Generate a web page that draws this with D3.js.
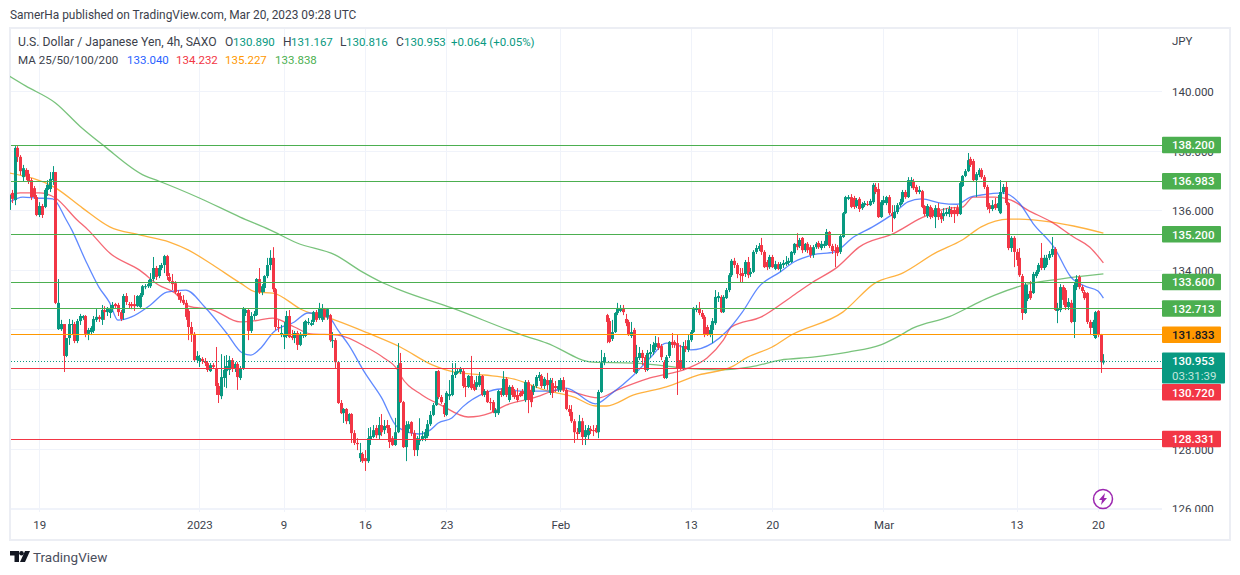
<!DOCTYPE html>
<html>
<head>
<meta charset="utf-8">
<script src="https://cdn.jsdelivr.net/npm/d3@7"></script>
<style>
  html, body { margin: 0; background: #fff; }
  text { font-family: Roboto, sans-serif; }
</style>
</head>
<body>
<svg id="chart" width="1240" height="575"></svg>
<script>
// USD/JPY 4h candles, 10 bars per line
const opens = [
  136.01,136.58,136.34,138.09,137.79,137.11,137.35,137.22,137.01,136.74,
  136.44,135.84,136.14,136.11,136.68,136.71,137.01,137.28,132.01,132.01,
  132.18,131.11,131.71,132.15,132.18,131.61,132.28,132.38,132.45,131.85,
  131.91,131.95,132.32,132.42,132.32,132.65,132.58,132.55,132.68,132.85,
  132.82,132.58,132.55,133.12,132.85,132.85,132.85,132.78,132.75,133.15,
  133.42,133.45,133.45,133.69,134.06,133.79,134.06,134.16,134.46,133.76,
  133.62,133.55,133.22,133.12,132.99,132.89,132.62,132.08,131.85,130.97,
  130.94,131.01,130.94,130.87,130.60,130.80,130.70,130.10,129.76,130.37,
  130.60,130.64,130.97,130.67,130.84,130.37,130.70,132.55,132.65,131.95,
  132.45,132.48,133.69,133.25,133.39,133.79,134.16,134.40,133.35,132.08,
  131.81,131.74,131.78,132.45,131.78,131.71,131.88,131.48,131.78,131.78,
  132.21,132.15,132.25,132.58,132.38,132.32,132.68,132.42,132.48,131.64,
  131.64,130.90,129.53,129.19,129.33,128.92,129.16,128.52,128.19,127.68,
  127.82,127.68,127.58,128.32,128.39,128.69,128.45,128.79,128.62,128.79,
  128.69,128.35,128.12,128.55,130.87,129.56,128.05,128.66,128.89,128.52,
  127.95,128.25,128.32,128.35,128.42,128.82,129.13,129.46,130.60,129.73,
  129.46,129.13,129.76,129.80,130.47,130.54,130.57,130.60,130.10,130.07,
  130.44,130.17,130.07,130.13,130.44,129.80,129.93,129.56,129.56,129.19,
  129.19,129.93,129.80,130.34,129.63,130.07,129.93,129.80,129.87,129.93,
  129.63,130.23,129.97,129.90,130.10,130.37,130.44,130.10,130.30,129.87,
  130.20,130.10,130.00,129.97,130.30,129.97,129.33,129.23,128.92,128.55,
  128.55,128.92,128.39,128.45,128.66,128.62,128.69,128.55,129.90,130.90,
  132.48,132.28,131.68,131.91,132.55,132.62,132.72,132.35,132.25,131.78,
  131.98,130.54,131.04,131.21,131.07,130.64,131.17,131.24,131.41,131.54,
  131.44,130.90,130.37,131.11,131.58,131.58,131.54,130.97,130.67,131.44,
  131.31,131.64,131.91,132.65,132.72,132.55,132.42,132.08,131.81,131.98,
  132.21,133.05,133.09,132.58,133.05,133.32,133.82,134.30,134.16,133.86,
  133.89,133.86,134.26,133.86,133.93,134.60,134.70,134.83,134.60,134.26,
  134.09,134.43,134.03,134.19,134.03,134.16,134.19,134.23,134.26,134.56,
  134.87,134.80,135.07,134.66,134.87,134.76,134.50,134.76,134.90,134.73,
  134.80,134.83,135.27,134.80,134.66,134.76,134.60,135.10,135.90,136.38,
  136.44,136.41,136.14,136.38,136.07,136.17,136.21,136.17,136.27,136.78,
  136.71,135.77,136.24,136.24,136.44,135.90,135.74,135.94,136.17,136.27,
  136.61,136.44,136.81,136.98,136.78,136.61,136.64,136.14,135.80,136.11,
  136.01,135.77,136.07,135.90,135.80,135.87,135.87,136.01,136.01,136.07,
  135.87,136.81,137.15,137.31,137.72,137.65,137.01,137.18,137.35,137.11,
  136.78,136.17,136.04,136.21,136.07,135.90,136.61,136.78,136.24,134.73,
  135.07,134.60,134.40,133.79,132.55,133.02,133.29,133.22,133.79,133.93,
  134.40,134.06,134.16,134.40,134.50,134.70,132.62,132.65,133.42,133.32,
  132.75,132.89,132.25,133.42,133.76,133.42,133.25,133.22,132.25,132.05,
  131.71,132.62,131.81,130.89
];
const highs = [
  136.68,136.68,138.15,138.15,137.85,137.52,137.41,137.35,137.08,136.81,
  136.51,136.27,136.21,136.74,137.01,137.28,137.48,137.28,133.69,132.32,
  132.18,131.71,132.35,132.32,132.25,132.35,132.52,132.48,132.48,132.05,
  132.11,132.45,132.68,132.48,132.82,132.78,132.75,132.82,132.92,132.89,
  132.89,132.65,133.19,133.22,132.92,132.92,133.15,133.15,133.22,133.49,
  133.52,133.66,133.89,134.43,134.13,134.16,134.23,134.50,134.50,133.89,
  133.86,133.62,133.32,133.25,133.15,132.99,132.68,132.25,131.91,131.27,
  131.14,131.07,131.04,130.94,130.87,130.87,131.41,130.20,131.17,131.11,
  131.14,131.11,131.04,130.90,130.90,130.77,132.75,132.72,132.68,132.58,
  132.62,133.72,134.06,133.52,133.82,134.40,134.66,134.76,133.39,132.32,
  132.15,132.25,132.62,132.65,131.98,131.95,131.95,131.91,132.25,132.32,
  132.38,132.32,132.62,132.65,132.89,132.85,132.72,132.72,132.52,131.91,
  131.71,130.94,129.63,129.36,129.36,129.19,129.19,128.62,128.35,128.19,
  127.88,127.95,128.69,128.72,128.79,128.79,129.06,129.16,128.96,128.96,
  128.79,128.42,129.03,131.54,131.21,129.60,128.92,128.92,128.92,128.62,
  128.42,129.02,128.59,128.66,128.96,129.26,129.53,130.60,130.64,129.80,
  129.53,129.93,130.30,130.87,130.87,130.70,130.74,130.67,130.37,130.47,
  131.11,130.30,130.44,130.57,130.47,130.00,129.97,129.70,129.63,129.36,
  129.97,130.03,130.60,130.40,130.13,130.13,130.00,130.03,129.93,130.00,
  130.30,130.30,130.13,130.17,130.47,130.57,130.50,130.40,130.54,130.37,
  130.37,130.27,130.30,130.37,130.40,130.03,129.46,129.46,128.99,128.69,
  129.13,129.03,128.79,128.79,128.76,128.79,128.79,129.97,131.31,131.21,
  132.52,132.38,132.32,132.58,132.89,132.82,132.82,132.52,132.32,132.25,
  132.05,131.48,131.41,131.31,131.14,131.31,131.51,131.58,131.78,131.74,
  131.51,130.97,131.14,131.61,131.88,131.64,131.81,131.48,131.58,131.64,
  131.81,131.98,132.75,132.82,132.92,132.65,132.48,132.15,132.15,132.38,
  133.32,133.25,133.15,133.15,133.39,133.89,134.36,134.40,134.23,134.06,
  134.06,134.33,134.43,134.06,134.66,134.83,134.90,135.07,134.66,134.33,
  134.50,134.50,134.30,134.26,134.26,134.33,134.46,134.40,134.63,134.90,
  135.23,135.07,135.10,134.90,134.93,134.83,134.83,134.93,134.97,134.97,
  134.97,135.37,135.30,134.87,134.87,134.83,135.17,135.94,136.48,136.51,
  136.54,136.48,136.41,136.44,136.27,136.31,136.31,136.38,136.91,136.91,
  136.91,136.34,136.48,136.48,136.51,136.17,136.17,136.24,136.38,136.68,
  136.68,137.11,137.11,137.05,136.85,136.81,136.68,136.17,136.21,136.17,
  136.07,136.17,136.24,135.97,136.07,136.07,136.14,136.11,136.11,136.17,
  136.95,137.18,137.38,137.92,137.79,137.72,137.28,137.41,137.41,137.18,
  136.85,136.24,136.34,136.41,136.51,137.01,136.88,136.95,136.27,135.13,
  135.13,134.70,134.73,133.86,133.56,133.49,133.62,133.93,133.99,134.23,
  134.90,134.50,134.50,134.63,135.10,134.76,132.89,133.52,133.49,133.39,
  133.05,132.99,133.56,133.82,133.82,133.49,133.32,133.25,132.32,132.32,
  132.62,132.65,131.85,131.17
];
const lows = [
  135.60,136.24,136.17,137.62,137.18,136.95,137.01,136.88,136.34,136.38,
  135.80,135.77,135.74,136.07,136.48,136.61,136.85,132.85,131.98,131.95,
  130.57,131.07,131.48,131.81,131.54,131.54,132.15,132.32,131.74,131.64,
  131.81,131.88,132.25,132.25,132.15,132.32,132.45,132.38,132.58,132.72,
  132.45,132.28,132.32,132.82,132.72,132.68,132.62,132.75,132.72,133.09,
  133.35,133.39,133.39,133.62,133.66,133.72,133.99,133.89,133.66,133.55,
  133.32,133.19,132.99,132.89,132.82,132.32,131.64,131.58,130.94,130.87,
  130.74,130.84,130.77,130.57,130.57,130.67,129.80,129.53,129.66,130.07,
  130.03,130.47,130.57,130.57,129.97,130.30,130.64,132.45,131.64,131.88,
  132.32,132.45,133.19,133.15,133.25,133.72,133.99,133.25,131.98,131.91,
  131.74,131.34,131.71,131.71,131.64,131.54,131.31,131.44,131.71,131.74,
  132.15,132.11,132.15,132.25,132.32,132.25,132.32,132.32,131.58,131.38,
  130.70,129.50,129.16,128.86,128.82,128.82,128.19,128.12,127.95,127.55,
  127.52,127.25,127.52,128.12,128.35,128.35,128.29,128.42,128.49,128.52,
  128.02,128.09,128.09,128.52,129.53,128.02,127.58,128.52,128.42,127.75,
  127.75,128.12,128.25,128.25,128.35,128.76,129.09,129.43,129.66,129.50,
  129.06,129.09,129.63,129.76,130.37,130.50,130.50,130.03,129.73,130.03,
  129.97,129.93,129.97,130.07,129.76,129.73,129.53,129.29,129.19,129.06,
  129.13,129.73,129.76,129.73,129.56,129.73,129.66,129.56,129.73,129.76,
  129.56,129.19,129.39,129.80,130.03,130.27,130.03,130.00,129.97,129.80,
  129.70,129.90,129.90,129.90,129.90,129.29,129.09,128.86,128.19,128.29,
  128.49,128.12,128.12,128.29,128.49,128.42,128.52,128.35,129.87,130.80,
  131.54,131.54,131.61,131.88,132.48,132.58,132.48,132.11,131.78,131.71,
  130.54,130.50,130.97,130.80,130.57,130.60,131.04,131.14,131.31,131.31,
  130.97,130.34,130.34,131.04,131.38,131.38,129.80,130.64,130.64,131.24,
  131.24,131.58,131.88,132.58,132.48,132.35,131.74,131.78,131.74,131.54,
  132.15,132.92,132.55,132.55,133.02,133.25,133.76,134.06,133.72,133.59,
  133.59,133.76,133.72,133.76,133.89,134.53,134.63,134.50,134.06,133.99,
  134.03,134.06,133.99,133.99,133.93,134.06,134.13,134.16,134.23,134.50,
  134.66,134.73,134.56,134.60,134.56,134.40,134.40,134.70,134.70,134.66,
  134.73,134.80,134.73,134.53,134.09,134.46,134.53,135.07,135.87,136.34,
  136.07,136.04,136.07,135.94,136.01,136.11,136.14,136.14,136.21,136.54,
  135.74,135.74,136.17,136.17,135.84,135.27,135.70,135.87,136.11,136.21,
  136.38,136.41,136.74,136.68,136.54,136.54,136.07,135.80,135.74,135.70,
  135.74,135.40,135.67,135.57,135.64,135.80,135.77,135.77,135.57,135.80,
  135.84,136.78,137.11,137.28,137.45,136.98,136.44,137.11,137.05,136.71,
  136.01,135.90,135.97,136.01,135.97,135.87,136.54,136.17,134.66,134.60,
  134.09,134.13,133.76,132.32,132.52,132.95,132.99,133.19,133.72,133.86,
  133.99,133.99,134.09,134.33,134.43,132.62,132.21,132.58,132.82,132.65,
  132.65,132.21,131.71,133.32,133.35,133.22,132.99,132.18,131.81,131.78,
  131.68,131.74,130.54,130.82
];
const closes = [
  136.51,136.38,138.09,137.79,137.31,137.41,137.15,136.98,136.44,136.44,
  135.84,136.14,135.84,136.68,136.85,137.05,137.28,132.89,132.89,132.18,
  131.11,131.71,132.18,132.18,131.61,132.28,132.45,132.45,131.85,131.98,
  132.05,132.35,132.42,132.35,132.65,132.58,132.72,132.68,132.82,132.78,
  132.58,132.35,133.12,132.92,132.82,132.78,132.78,133.12,133.15,133.45,
  133.45,133.52,133.69,134.06,133.76,134.06,134.16,134.46,133.79,133.62,
  133.52,133.25,133.12,132.99,132.89,132.42,132.08,131.85,130.97,131.11,
  131.04,130.94,130.87,130.64,130.80,130.74,130.10,129.80,130.40,130.64,
  130.77,130.97,130.70,130.84,130.40,130.70,132.68,132.65,131.95,132.45,
  132.52,133.69,133.25,133.45,133.79,134.16,134.40,133.35,132.08,132.05,
  131.88,131.85,132.45,131.74,131.71,131.88,131.48,131.85,131.85,132.28,
  132.25,132.21,132.58,132.32,132.72,132.72,132.42,132.68,131.64,131.64,
  130.90,129.53,129.19,129.33,128.92,129.16,128.52,128.19,128.15,127.85,
  127.58,127.58,128.35,128.42,128.62,128.45,128.79,128.55,128.76,128.69,
  128.22,128.12,128.55,130.80,129.56,128.05,128.79,128.82,128.52,127.95,
  128.35,128.32,128.42,128.55,128.82,129.13,129.46,130.60,129.73,129.56,
  129.16,129.87,129.83,130.47,130.57,130.60,130.70,130.10,130.07,130.44,
  130.03,129.97,130.23,130.44,129.80,129.93,129.56,129.53,129.23,129.29,
  129.93,129.80,130.34,129.80,130.07,129.80,129.73,129.63,129.76,129.83,
  130.23,129.63,129.56,130.10,130.40,130.47,130.10,130.34,130.13,130.30,
  129.87,130.03,130.10,130.30,129.97,129.33,129.23,128.92,128.55,128.49,
  128.92,128.39,128.62,128.69,128.59,128.59,128.55,129.90,130.87,131.07,
  132.25,131.58,131.91,132.55,132.72,132.72,132.58,132.21,131.81,131.91,
  130.57,131.07,131.21,131.04,130.64,131.21,131.24,131.48,131.54,131.38,
  131.07,130.37,131.07,131.58,131.48,131.48,130.70,130.70,131.44,131.34,
  131.64,131.91,132.72,132.72,132.55,132.42,131.81,131.81,131.98,132.28,
  133.09,133.12,132.58,133.09,133.32,133.82,134.30,134.16,133.86,133.82,
  133.79,134.26,133.82,133.93,134.60,134.73,134.80,134.60,134.09,134.09,
  134.43,134.09,134.19,134.03,134.19,134.23,134.26,134.30,134.60,134.87,
  134.76,135.00,134.66,134.87,134.66,134.50,134.76,134.87,134.76,134.87,
  134.87,135.27,134.80,134.63,134.63,134.56,135.13,135.90,136.44,136.44,
  136.11,136.11,136.34,136.04,136.21,136.24,136.19,136.31,136.85,136.61,
  135.77,136.27,136.34,136.44,135.90,135.80,135.94,136.17,136.27,136.61,
  136.44,137.01,137.01,136.74,136.61,136.68,136.11,135.87,136.14,135.77,
  135.80,136.07,135.77,135.70,135.90,135.94,136.04,135.87,135.87,135.87,
  136.91,137.15,137.31,137.68,137.52,137.01,137.21,137.35,137.11,136.78,
  136.11,136.04,136.17,136.07,136.24,136.61,136.78,136.24,134.73,135.07,
  134.60,134.33,133.82,132.55,133.49,133.19,133.05,133.86,133.93,134.16,
  134.06,134.40,134.40,134.53,134.70,132.65,132.72,133.42,132.99,132.75,
  132.92,132.25,133.49,133.69,133.42,133.29,133.05,132.25,132.05,132.25,
  132.58,131.81,130.90,130.95
];

// moving averages: bar number and value of each point
const ma25Bars = [0,5,10,16,21,23,28,33,37,40,45,52,58,65,72,80,86,89,93,97,105,110,118,121,125,131,137,143,151,155,158,163,167,175,181,189,199,205,216,222,230,236,242,248,251,259,264,270,276,284,289,296,304,311,318,326,331,336,343,349,354,358,366,372,377,385,391,396,401,403];
const ma25Values = [136.27,136.44,136.41,136.38,135.67,135.34,134.33,133.42,132.89,132.31,132.42,132.82,133.25,133.32,132.75,131.88,131.2,131.14,131.41,131.88,132.25,132.55,132.38,131.98,131.48,130.54,129.73,128.72,128.49,128.62,128.86,129.03,129.4,129.86,130.0,129.93,129.93,130.03,129.5,129.86,130.47,131.04,131.54,131.41,131.31,131.54,131.91,132.58,133.42,133.93,134.26,134.5,134.6,135.1,135.44,135.91,136.28,136.38,136.24,136.2,136.44,136.51,136.58,136.24,135.57,134.73,133.76,133.46,133.29,133.05];

const ma50Bars = [0,4,11,17,25,29,37,48,55,61,66,75,85,92,97,105,111,121,132,138,143,144,152,159,169,177,183,193,203,217,224,236,250,257,263,266,277,288,296,305,313,326,336,346,351,355,363,369,375,384,392,398,403];
const ma50Values = [136.51,136.58,136.58,136.41,135.67,135.34,134.56,133.99,133.49,133.22,132.78,132.65,132.25,132.31,132.38,132.08,131.85,131.81,131.38,131.04,130.64,130.47,129.8,129.46,129.06,129.19,129.46,129.7,129.97,129.7,129.97,130.37,130.7,131.04,131.64,132.08,132.42,133.09,133.59,134.09,134.76,135.23,135.74,136.07,136.1,136.44,136.44,136.34,136.01,135.6,135.1,134.76,134.23];

const ma100Bars = [0,17,27,37,48,59,66,75,85,91,97,108,120,132,144,156,164,175,186,197,208,216,220,230,242,254,266,272,281,288,307,319,329,341,351,358,368,372,384,392,403];
const ma100Values = [137.25,136.75,136.07,135.44,135.17,134.93,134.66,134.16,133.56,133.25,133.22,132.65,132.31,131.88,131.41,130.8,130.57,130.47,130.33,129.97,129.73,129.43,129.43,129.8,130.07,130.47,130.74,131.07,131.41,131.81,132.58,133.56,133.89,134.56,135.0,135.44,135.7,135.7,135.6,135.47,135.23];

const ma200Bars = [0,6,17,26,35,50,55,70,85,96,106,120,130,137,144,163,189,198,215,230,242,248,262,273,284,296,309,321,327,333,346,358,363,375,387,403];
const ma200Values = [140.5,140.17,139.6,138.82,138.15,137.15,136.98,136.41,135.77,135.34,134.9,134.5,133.93,133.59,133.32,132.72,131.81,131.54,130.9,130.87,130.77,130.7,130.64,130.74,130.97,131.07,131.24,131.48,131.74,132.05,132.42,132.95,133.15,133.52,133.69,133.86];

// horizontal levels drawn on the chart
const greenLevels = [138.2, 136.983, 135.2, 133.6, 132.713];
const orangeLevels = [131.833];
const redLevels = [130.72, 128.331];
const lastPrice = 130.953;

const priceTicks = [140, 138, 136, 134, 132, 130, 128, 126];
const timeBars = [11, 70, 101, 131, 161, 203, 251, 281, 322, 371, 401];
const timeLabels = ['19', '2023', '9', '16', '23', 'Feb', '13', '20', 'Mar', '13', '20'];

const UP = '#089981', DOWN = '#f23645';
const GREEN = '#4caf50', ORANGE = '#ff9800';
const GRID = '#f0f3fa', TEXT = '#3c3f4c';

const svg = d3.select('#chart');
const defs = svg.append('defs');
defs.append('clipPath').attr('id', 'plot').append('rect')
    .attr('x', 10).attr('y', 29).attr('width', 1152).attr('height', 480);
defs.append('clipPath').attr('id', 'scale').append('rect')
    .attr('x', 1162).attr('y', 29).attr('width', 66).attr('height', 483);

const x = d3.scaleLinear().domain([0, opens.length - 1]).range([9.3, 1103.4]);
const y = d3.scaleLinear().domain([126, 140]).range([508.2, 91]);

// frame
svg.append('rect')
    .attr('x', 10).attr('y', 28).attr('width', 1220).attr('height', 512)
    .attr('fill', '#fff').attr('stroke', '#eceef4').attr('stroke-width', 2);

// grid
svg.append('g').selectAll('line').data(priceTicks).join('line')
    .attr('x1', 11).attr('x2', 1162)
    .attr('y1', d => Math.round(y(d)) + 0.5).attr('y2', d => Math.round(y(d)) + 0.5)
    .attr('stroke', GRID);
svg.append('g').selectAll('line').data(timeBars).join('line')
    .attr('x1', d => Math.round(x(d)) + 0.5).attr('x2', d => Math.round(x(d)) + 0.5)
    .attr('y1', 29).attr('y2', 512)
    .attr('stroke', GRID);
svg.append('line')
    .attr('x1', 11).attr('x2', 1162).attr('y1', 509.5).attr('y2', 509.5)
    .attr('stroke', GRID);

const plot = svg.append('g').attr('clip-path', 'url(#plot)');

// moving averages
const line = (bars, values, color) => {
    const path = d3.line()
        .x((d, i) => x(bars[i]))
        .y(d => y(d))
        .curve(d3.curveMonotoneX);
    plot.append('path')
        .attr('d', path(values))
        .attr('fill', 'none')
        .attr('stroke', color)
        .attr('stroke-width', 1.3)
        .attr('opacity', 0.75);
};
line(ma200Bars, ma200Values, GREEN);
line(ma100Bars, ma100Values, ORANGE);
line(ma50Bars, ma50Values, DOWN);
line(ma25Bars, ma25Values, '#2962ff');

// candles
const bars = plot.append('g').selectAll('g').data(d3.range(opens.length)).join('g')
    .attr('fill', i => closes[i] >= opens[i] ? UP : DOWN);
bars.append('rect')
    .attr('x', i => Math.round(x(i)))
    .attr('width', 1)
    .attr('y', i => y(highs[i]))
    .attr('height', i => y(lows[i]) - y(highs[i]));
bars.append('rect')
    .attr('x', i => Math.round(x(i)) - 1)
    .attr('width', 3)
    .attr('y', i => y(Math.max(opens[i], closes[i])))
    .attr('height', i => Math.max(1, Math.abs(y(opens[i]) - y(closes[i]))));

// horizontal levels
const levels = (values, color) => {
    svg.append('g').selectAll('line').data(values).join('line')
        .attr('x1', 11).attr('x2', 1162)
        .attr('y1', d => Math.round(y(d)) + 0.5).attr('y2', d => Math.round(y(d)) + 0.5)
        .attr('stroke', color);
};
levels(greenLevels, GREEN);
levels(orangeLevels, ORANGE);
levels(redLevels, DOWN);
svg.append('line')
    .attr('x1', 11).attr('x2', 1162)
    .attr('y1', Math.round(y(lastPrice)) + 0.5).attr('y2', Math.round(y(lastPrice)) + 0.5)
    .attr('stroke', UP).attr('stroke-dasharray', '1 2');

// price scale
const priceAxis = svg.append('g')
    .attr('clip-path', 'url(#scale)')
    .append('g')
    .attr('transform', 'translate(1162,1)')
    .call(d3.axisRight(y).tickValues(priceTicks).tickFormat(d3.format('.3f')).tickSize(0).tickPadding(10));
priceAxis.select('.domain').remove();
priceAxis.selectAll('text').attr('fill', TEXT).style('font-size', '11.5px').style('font-family', 'Roboto, sans-serif');

svg.append('text').attr('x', 1172).attr('y', 45).attr('fill', TEXT).attr('font-size', 11.5).text('JPY');

// time scale
const timeAxis = svg.append('g')
    .attr('transform', 'translate(0,509)')
    .call(d3.axisBottom(x).tickValues(timeBars).tickFormat((d, i) => timeLabels[i]).tickSize(0).tickPadding(12));
timeAxis.select('.domain').remove();
timeAxis.selectAll('text').attr('fill', TEXT).style('font-size', '11.5px').style('font-family', 'Roboto, sans-serif');

// level tags on the price scale, the tag can be pushed off its line like 130.720 is
const tag = (value, fill, color, shift = 0) => {
    const cy = y(value) + shift;
    svg.append('rect')
        .attr('x', 1162).attr('y', cy - 8).attr('width', 59).attr('height', 16.5)
        .attr('rx', 1).attr('fill', fill);
    svg.append('text')
        .attr('x', 1172).attr('y', cy + 4.5)
        .attr('fill', color).attr('font-size', 11.5).attr('font-weight', 500)
        .text(d3.format('.3f')(value));
};
greenLevels.forEach(v => tag(v, GREEN, '#fff'));
orangeLevels.forEach(v => tag(v, ORANGE, '#131722'));
tag(redLevels[0], DOWN, '#fff', 24.5);
tag(redLevels[1], DOWN, '#fff');

// last price tag with countdown
svg.append('rect')
    .attr('x', 1162).attr('y', y(lastPrice) - 8).attr('width', 63).attr('height', 31)
    .attr('rx', 1).attr('fill', UP);
svg.append('text').attr('x', 1172).attr('y', y(lastPrice) + 4.5)
    .attr('fill', '#fff').attr('font-size', 11.5).attr('font-weight', 500)
    .text(d3.format('.3f')(lastPrice));
svg.append('text').attr('x', 1172).attr('y', y(lastPrice) + 19)
    .attr('fill', '#c3e6dd').attr('font-size', 11.5).text('03:31:39');

// header, legend
svg.append('text').attr('x', 10).attr('y', 19).attr('fill', TEXT).attr('font-size', 11.9)
    .text('SamerHa published on TradingView.com, Mar 20, 2023 09:28 UTC');

const ohlcLegend = [
    ['U.S. Dollar / Japanese Yen, 4h, SAXO', 18, TEXT, 12.2],
    ['O', 225, TEXT, 12], ['130.890', 233, UP, 11.5],
    ['H', 283, TEXT, 12], ['131.167', 291, UP, 11.5],
    ['L', 340, TEXT, 12], ['130.816', 346, UP, 11.5],
    ['C', 396, TEXT, 12], ['130.953', 404, UP, 11.5],
    ['+0.064 (+0.05%)', 451, UP, 11.5]
];
const maLegend = [
    ['MA 25/50/100/200', 18, TEXT, 11.6],
    ['133.040', 127, '#2962ff', 11.5],
    ['134.232', 176, DOWN, 11.5],
    ['135.227', 225, ORANGE, 11.5],
    ['133.838', 275, GREEN, 11.5]
];
svg.append('g').selectAll('text').data(ohlcLegend).join('text')
    .attr('x', d => d[1]).attr('y', 46).attr('fill', d => d[2]).attr('font-size', d => d[3]).text(d => d[0]);
svg.append('g').selectAll('text').data(maLegend).join('text')
    .attr('x', d => d[1]).attr('y', 64).attr('fill', d => d[2]).attr('font-size', d => d[3]).text(d => d[0]);

// lightning marker
const bolt = svg.append('g').attr('transform', 'translate(1103,499)');
bolt.append('circle').attr('r', 9.5).attr('fill', '#fff').attr('stroke', '#9c27b0').attr('stroke-width', 1.5);
bolt.append('path').attr('d', 'M2,-6 L-4,1 L-1,1 L-2,6 L4,-1 L1,-1 Z').attr('fill', '#9c27b0');

// footer logo
const logo = svg.append('g').attr('transform', 'translate(10,551)').attr('fill', '#131722');
logo.append('path').attr('d', 'M0,0 H9 V11 H4.5 V4.5 H0 Z');
logo.append('circle').attr('cx', 11.5).attr('cy', 2.3).attr('r', 2.3);
logo.append('path').attr('d', 'M15,0 H20 L15,11 H10 Z');
svg.append('text').attr('x', 33).attr('y', 562).attr('fill', '#4a4e5c').attr('font-size', 13.5).text('TradingView');
</script>
</body>
</html>
